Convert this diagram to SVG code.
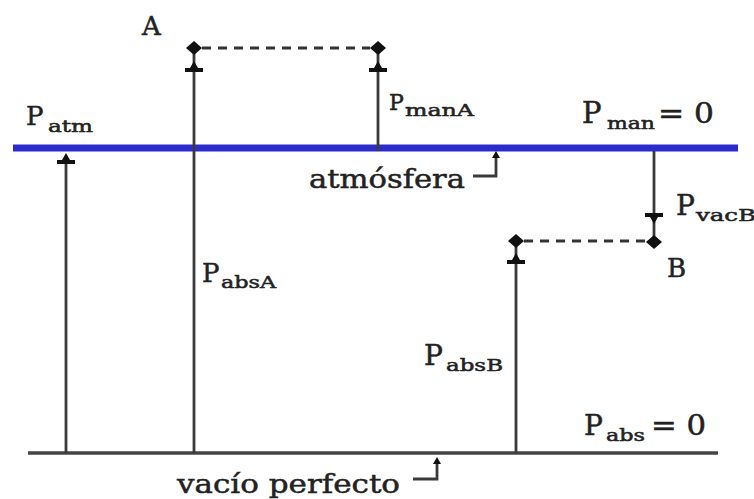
<svg xmlns="http://www.w3.org/2000/svg" xmlns:xlink="http://www.w3.org/1999/xlink" width="754" height="499" viewBox="0 0 754 499">
<style>
  .lbl { font-family: "DejaVu Serif", "Liberation Serif", serif; fill: #222; stroke: #222; stroke-width: 0.5; }
  .big { font-size: 26px; }
  .sub { font-size: 16px; }
  .ln { stroke: #3a3a3a; stroke-width: 2.8; fill: none; }
  .dash { stroke: #333; stroke-width: 2.8; stroke-dasharray: 9 7; fill: none; }
  .ah { fill: #111; }
</style>
<defs>
  <path id="ah" d="M0,0 L-7,-4 L-7,-9 L-11,-9 L-11,9 L-7,9 L-7,4 Z"/>
  <path id="sah" d="M0,0 L-7,-4 L-7,4 Z"/>
  <path id="dot" d="M-8,0 L0,-7 L8,0 L0,7 Z"/>
</defs>

<g id="reference-lines">
  <line x1="13" y1="148" x2="738" y2="148" stroke="#2c2ccc" stroke-width="7"/>
  <line x1="28" y1="453" x2="718" y2="453" stroke="#444" stroke-width="3.5"/>
</g>

<g id="connectors">
  <line class="ln" x1="66" y1="453" x2="66" y2="156"/>
  <line class="ln" x1="194" y1="453" x2="194" y2="48"/>
  <line class="ln" x1="378" y1="151" x2="378" y2="48"/>
  <line class="dash" x1="202" y1="48" x2="370" y2="48"/>
  <line class="ln" x1="654" y1="151" x2="654" y2="242"/>
  <line class="ln" x1="516" y1="453" x2="516" y2="241"/>
  <line class="dash" x1="524" y1="241" x2="646" y2="241"/>
  <polyline class="ln" points="473,176 496,176 496,156"/>
  <polyline class="ln" points="413,479 437,479 437,462"/>
  <g class="ah">
    <use xlink:href="#ah" transform="translate(66,153) rotate(-90)"/>
    <use xlink:href="#ah" transform="translate(194,61) rotate(-90)"/>
    <use xlink:href="#ah" transform="translate(378,61) rotate(-90)"/>
    <use xlink:href="#ah" transform="translate(654,224) rotate(90)"/>
    <use xlink:href="#ah" transform="translate(516,253) rotate(-90)"/>
    <use xlink:href="#sah" transform="translate(496,151) rotate(-90)"/>
    <use xlink:href="#sah" transform="translate(437,457) rotate(-90)"/>
  </g>
</g>

<g id="point-A">
  <use xlink:href="#dot" class="ah" transform="translate(194,48)"/>
  <use xlink:href="#dot" class="ah" transform="translate(378,48)"/>
  <text class="lbl big" x="142" y="35">A</text>
</g>

<g id="point-B">
  <use xlink:href="#dot" class="ah" transform="translate(516,241)"/>
  <use xlink:href="#dot" class="ah" transform="translate(654,242)"/>
  <text class="lbl big" x="667" y="277">B</text>
</g>

<g id="label-Patm">
  <text class="lbl big" x="26" y="125">P</text>
  <text class="lbl sub" x="48" y="132" textLength="45" lengthAdjust="spacingAndGlyphs">atm</text>
</g>

<g id="label-PmanA">
  <text class="lbl" x="389" y="110" font-size="22">P</text>
  <text class="lbl sub" x="405" y="116" textLength="69" lengthAdjust="spacingAndGlyphs">manA</text>
</g>

<g id="label-Pman0">
  <text class="lbl" x="582" y="123" font-size="29">P</text>
  <text class="lbl sub" x="607" y="129" textLength="48" lengthAdjust="spacingAndGlyphs">man</text>
  <text class="lbl" x="658" y="123" font-size="27" textLength="56" lengthAdjust="spacingAndGlyphs">= 0</text>
</g>

<g id="label-atmosfera">
  <text class="lbl" x="309" y="188" font-size="26" textLength="156" lengthAdjust="spacingAndGlyphs">atmósfera</text>
</g>

<g id="label-PvacB">
  <text class="lbl" x="676" y="215" font-size="28">P</text>
  <text class="lbl sub" x="696" y="221" textLength="60" lengthAdjust="spacingAndGlyphs">vacB</text>
</g>

<g id="label-PabsA">
  <text class="lbl big" x="202" y="282">P</text>
  <text class="lbl sub" x="221" y="288" textLength="55" lengthAdjust="spacingAndGlyphs">absA</text>
</g>

<g id="label-PabsB">
  <text class="lbl" x="424" y="365" font-size="28">P</text>
  <text class="lbl sub" x="446" y="371" textLength="57" lengthAdjust="spacingAndGlyphs">absB</text>
</g>

<g id="label-Pabs0">
  <text class="lbl" x="584" y="435" font-size="28">P</text>
  <text class="lbl sub" x="606" y="441" textLength="39" lengthAdjust="spacingAndGlyphs">abs</text>
  <text class="lbl" x="651" y="435" font-size="27" textLength="55" lengthAdjust="spacingAndGlyphs">= 0</text>
</g>

<g id="label-vacio">
  <text class="lbl" x="177" y="493" font-size="26" textLength="223" lengthAdjust="spacingAndGlyphs">vacío perfecto</text>
</g>
</svg>
